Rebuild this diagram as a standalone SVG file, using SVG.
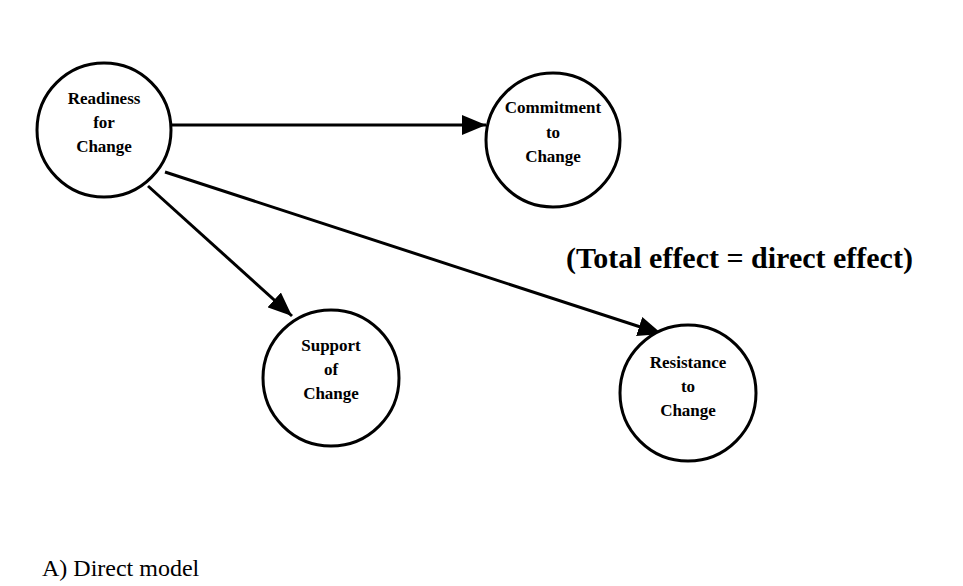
<svg xmlns="http://www.w3.org/2000/svg" width="963" height="586" viewBox="0 0 963 586">
<style>
.node{fill:#fff;stroke:#000;stroke-width:3}
.lbl{font-family:"Liberation Serif",serif;font-size:17px;font-weight:bold;text-anchor:middle;fill:#000}
.edge{stroke:#000;stroke-width:3;fill:none}
.note{font-family:"Liberation Serif",serif;font-size:30px;font-weight:bold;fill:#000}
.cap{font-family:"Liberation Serif",serif;font-size:24px;fill:#000}
</style>
<defs>
<marker id="a" viewBox="0 0 24 20" refX="24" refY="10" markerWidth="24" markerHeight="20" markerUnits="userSpaceOnUse" orient="auto">
<path d="M0,0 L24,10 L0,20 z" fill="#000"/>
</marker>
</defs>
<rect width="963" height="586" fill="#fff"/>
<g id="connectors">
<line class="edge" x1="171" y1="125" x2="486" y2="125" marker-end="url(#a)"/>
<line class="edge" x1="148" y1="186" x2="292" y2="316" marker-end="url(#a)"/>
<line class="edge" x1="165" y1="172" x2="662" y2="334" marker-end="url(#a)"/>
</g>
<g id="readiness">
<circle class="node" cx="104" cy="130" r="67"/>
<text class="lbl" x="104" y="104">Readiness</text>
<text class="lbl" x="104" y="128">for</text>
<text class="lbl" x="104" y="152">Change</text>
</g>
<g id="commitment">
<circle class="node" cx="553" cy="140" r="67"/>
<text class="lbl" x="553" y="113">Commitment</text>
<text class="lbl" x="553" y="138">to</text>
<text class="lbl" x="553" y="162">Change</text>
</g>
<g id="support">
<circle class="node" cx="331" cy="378" r="68"/>
<text class="lbl" x="331" y="351">Support</text>
<text class="lbl" x="331" y="375">of</text>
<text class="lbl" x="331" y="399">Change</text>
</g>
<g id="resistance">
<circle class="node" cx="688" cy="393" r="68"/>
<text class="lbl" x="688" y="368">Resistance</text>
<text class="lbl" x="688" y="392">to</text>
<text class="lbl" x="688" y="416">Change</text>
</g>
<text class="note" x="566" y="268">(Total effect = direct effect)</text>
<text class="cap" x="42" y="576">A) Direct model</text>
</svg>
